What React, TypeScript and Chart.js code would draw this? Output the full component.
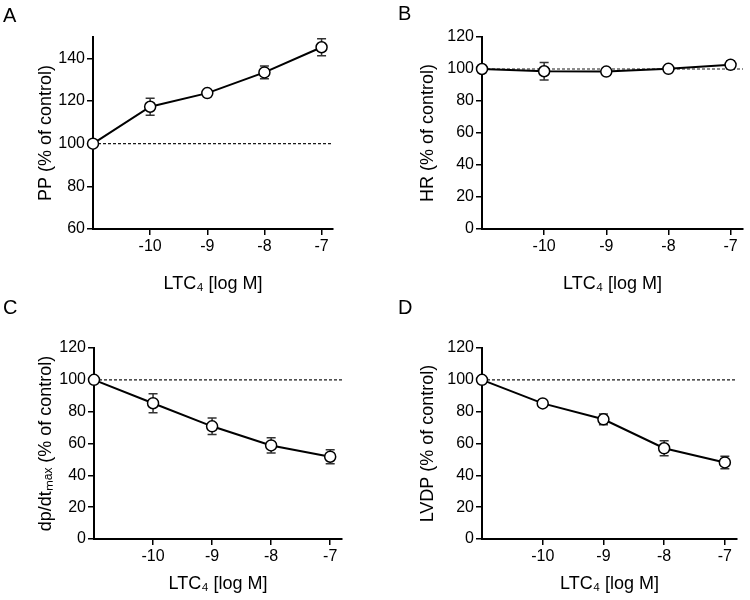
import React, { useEffect, useRef } from 'react';
import { Chart, registerables } from 'chart.js';

Chart.register(...registerables);

// ---- data ----
const xLogM = [-11, -10, -9, -8, -7];
const xTickValues = [-10, -9, -8, -7];
const xMin = -11;
const xMax = -6.8;
const controlLevel = 100;

const ppMean = [100, 117.3, 123.7, 133.4, 145.2];
const ppErr = [0, 4, 1.2, 3, 4];
const ppTicks = [60, 80, 100, 120, 140];

const hrMean = [100, 98.6, 98.4, 100.1, 102.6];
const hrErr = [0, 5.4, 1, 1, 2.5];

const dpMean = [100, 85.3, 70.8, 58.8, 51.7];
const dpErr = [0, 6, 5.2, 4.8, 4.4];

const lvdpMean = [100, 85.2, 75.2, 57, 48.1];
const lvdpErr = [0, 1.5, 3.4, 4.7, 3.9];

const pctTicks = [0, 20, 40, 60, 80, 100, 120];

const xTitle = 'LTC\u2084 [log M]';

const FONT = "'Liberation Sans', Arial, Helvetica, sans-serif";

type Geo = {
  left: number; top: number; yAxisW: number; padTop: number; padRight: number;
  xAxisH: number; yTitlePad: number; letterX: number; letterY: number;
};

type PanelProps = {
  letter: string; yTitle: string; mean: number[]; err: number[];
  yMin: number; yMax: number; yTicks: number[]; geo: Geo;
};

function Panel({ letter, yTitle, mean, err, yMin, yMax, yTicks, geo }: PanelProps) {
  const ref = useRef<HTMLCanvasElement>(null);
  useEffect(() => {
    const errorBars = {
      id: 'errorBars',
      beforeDatasetsDraw(chart: any) {
        const { ctx, scales } = chart;
        const xs = scales.x, ys = scales.y;
        ctx.save();
        ctx.strokeStyle = '#333';
        ctx.lineWidth = 1.5;
        for (let i = 0; i < mean.length; i++) {
          const e = err[i];
          if (!e) continue;
          const px = xs.getPixelForValue(xLogM[i]);
          const hi = ys.getPixelForValue(mean[i] + e);
          const lo = ys.getPixelForValue(mean[i] - e);
          ctx.beginPath();
          ctx.moveTo(px, hi); ctx.lineTo(px, lo);
          ctx.moveTo(px - 4.5, hi); ctx.lineTo(px + 4.5, hi);
          ctx.moveTo(px - 4.5, lo); ctx.lineTo(px + 4.5, lo);
          ctx.stroke();
        }
        ctx.restore();
      },
    };
    const panelLetter = {
      id: 'panelLetter',
      afterDraw(chart: any) {
        const { ctx } = chart;
        ctx.save();
        ctx.fillStyle = '#000';
        ctx.font = `20px ${FONT}`;
        ctx.textBaseline = 'alphabetic';
        ctx.fillText(letter, geo.letterX, geo.letterY);
        ctx.restore();
      },
    };
    const chart = new Chart(ref.current!, {
      type: 'line',
      data: {
        datasets: [
          {
            data: mean.map((y, i) => ({ x: xLogM[i], y })),
            borderColor: '#000',
            borderWidth: 2,
            pointRadius: 5.5,
            pointBackgroundColor: '#fff',
            pointBorderColor: '#000',
            pointBorderWidth: 1.5,
            clip: false,
            order: 0,
          } as any,
          {
            data: [{ x: xMin, y: controlLevel }, { x: xMax, y: controlLevel }],
            borderColor: '#1a1a1a',
            borderWidth: 1.2,
            borderDash: [3, 2],
            pointRadius: 0,
            clip: false,
            order: 1,
          } as any,
        ],
      },
      options: {
        responsive: false,
        animation: false,
        events: [],
        layout: { padding: { top: geo.padTop, right: geo.padRight, left: 0, bottom: 0 } },
        plugins: { legend: { display: false }, tooltip: { enabled: false }, title: { display: false } },
        scales: {
          x: {
            type: 'linear',
            min: xMin,
            max: xMax,
            afterBuildTicks: (s: any) => { s.ticks = xTickValues.map((v) => ({ value: v })); },
            afterFit: (s: any) => { s.height = geo.xAxisH; },
            grid: { display: true, drawOnChartArea: false, drawTicks: true, tickLength: 6, color: '#000', lineWidth: 1.5 },
            border: { display: true, color: '#000', width: 2 },
            ticks: { color: '#000', font: { size: 16, family: FONT }, padding: 2, maxRotation: 0 },
            title: { display: true, text: xTitle, color: '#000', font: { size: 18, family: FONT }, padding: { top: 0, bottom: 5 } },
          },
          y: {
            type: 'linear',
            min: yMin,
            max: yMax,
            afterBuildTicks: (s: any) => { s.ticks = yTicks.map((v) => ({ value: v })); },
            afterFit: (s: any) => { s.width = geo.yAxisW; },
            grid: { display: true, drawOnChartArea: false, drawTicks: true, tickLength: 6, color: '#000', lineWidth: 1.5 },
            border: { display: true, color: '#000', width: 2 },
            ticks: { color: '#000', font: { size: 16, family: FONT }, padding: 2 },
            title: { display: true, text: yTitle, color: '#000', font: { size: 18, family: FONT }, padding: { top: geo.yTitlePad, bottom: 0 } },
          },
        },
      },
      plugins: [errorBars, panelLetter],
    });
    return () => chart.destroy();
  }, []);
  return (
    <div style={{ position: 'absolute', left: geo.left, top: geo.top, width: 375, height: 300 }}>
      <canvas ref={ref} width={375} height={300} style={{ display: 'block' }} />
    </div>
  );
}

export default function App() {
  return (
    <div style={{ position: 'absolute', left: 0, top: 0, width: 750, height: 600, background: '#fff' }}>
      <Panel letter="A" yTitle="PP (% of control)" mean={ppMean} err={ppErr} yMin={60} yMax={150} yTicks={ppTicks}
        geo={{ left: 0, top: 0, yAxisW: 93, padTop: 37, padRight: 42, xAxisH: 71, yTitlePad: 35, letterX: 3, letterY: 22 }} />
      <Panel letter="B" yTitle="HR (% of control)" mean={hrMean} err={hrErr} yMin={0} yMax={120} yTicks={pctTicks}
        geo={{ left: 375, top: 0, yAxisW: 107, padTop: 37, padRight: 4, xAxisH: 71, yTitlePad: 42, letterX: 23, letterY: 20 }} />
      <Panel letter="C" yTitle={'dp/dt\u2098\u2090\u2093 (% of control)'} mean={dpMean} err={dpErr} yMin={0} yMax={120} yTicks={pctTicks}
        geo={{ left: 0, top: 300, yAxisW: 94, padTop: 48, padRight: 33, xAxisH: 61, yTitlePad: 35, letterX: 3, letterY: 14 }} />
      <Panel letter="D" yTitle="LVDP (% of control)" mean={lvdpMean} err={lvdpErr} yMin={0} yMax={120} yTicks={pctTicks}
        geo={{ left: 375, top: 300, yAxisW: 107, padTop: 48, padRight: 13, xAxisH: 61, yTitlePad: 42, letterX: 23, letterY: 14 }} />
    </div>
  );
}
